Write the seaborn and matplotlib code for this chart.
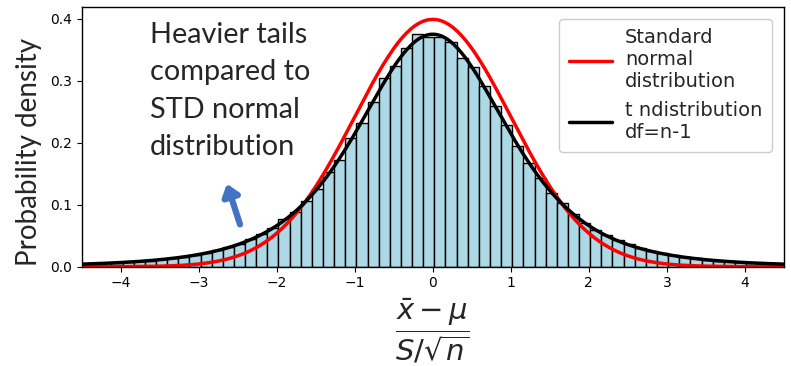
import numpy as np
import pandas as pd
import matplotlib
matplotlib.use("Agg")
import matplotlib.pyplot as plt
import seaborn as sns
from math import gamma, pi, sqrt

# ---- data ----
bin_start = -4.547          # left edge of first bin
bin_width = 0.1427
bar_heights = [
    0.0044, 0.0050, 0.0057, 0.0065, 0.0075, 0.0086, 0.0100, 0.0117,
    0.0136, 0.0160, 0.0188, 0.0222, 0.0262, 0.0310, 0.0368, 0.0440,
    0.0520, 0.0625, 0.0770, 0.0880, 0.1065, 0.1250, 0.1530, 0.1720,
    0.2070, 0.2320, 0.2650, 0.3050, 0.3240, 0.3520, 0.3760, 0.3700,
    0.3700, 0.3630, 0.3360, 0.3220, 0.2910, 0.2600, 0.2290, 0.1940,
    0.1680, 0.1430, 0.1190, 0.1020, 0.0850, 0.0710, 0.0600, 0.0505,
    0.0425, 0.0360, 0.0300, 0.0255, 0.0215, 0.0182, 0.0155, 0.0133,
    0.0114, 0.0098, 0.0085, 0.0073, 0.0064, 0.0056, 0.0049, 0.0043,
]
normal_mu, normal_sigma = 0.0, 1.0
t_df = 4
legend_labels = ["Standard\nnormal\ndistribution", "t ndistribution\ndf=n-1"]
annotation = "Heavier tails\ncompared to\nSTD normal\ndistribution"
x_ticks = [-4, -3, -2, -1, 0, 1, 2, 3, 4]
y_ticks = [0.0, 0.1, 0.2, 0.3, 0.4]

# ---- derived ----
n_bins = len(bar_heights)
edges = [float(bin_start + bin_width * i) for i in range(n_bins + 1)]
centers = [(edges[i] + edges[i + 1]) / 2 for i in range(n_bins)]
hist_df = pd.DataFrame({"x": centers, "h": bar_heights})

xs = np.linspace(-4.5, 4.5, 600)
normal_pdf = np.exp(-0.5 * ((xs - normal_mu) / normal_sigma) ** 2) / (normal_sigma * np.sqrt(2 * np.pi))
t_const = gamma((t_df + 1) / 2) / (sqrt(t_df * pi) * gamma(t_df / 2))
t_pdf = t_const * (1 + xs ** 2 / t_df) ** (-(t_df + 1) / 2)
curve_df = pd.DataFrame({"x": xs, "normal": normal_pdf, "t": t_pdf})

sns.set_style("ticks")
plt.rcParams["font.family"] = ["DejaVu Sans"]

fig = plt.figure(figsize=(7.91, 3.66), dpi=100)
ax = fig.add_axes([0.1033, 0.2713, 0.8877, 0.7097])

sns.histplot(x=hist_df["x"], weights=hist_df["h"], bins=edges, stat="count",
             color="#ADD8E6", edgecolor="black", linewidth=1.0, alpha=1.0, ax=ax)
sns.lineplot(data=curve_df, x="x", y="normal", color="red", linewidth=2.5,
             ax=ax, label=legend_labels[0])
sns.lineplot(data=curve_df, x="x", y="t", color="black", linewidth=2.5,
             ax=ax, label=legend_labels[1])

ax.set_xlim(-4.5, 4.5)
ax.set_ylim(0, 0.419)
ax.set_xticks(x_ticks)
ax.set_yticks(y_ticks)
ax.tick_params(labelsize=10, colors="black")
for s in ax.spines.values():
    s.set_color("black")
    s.set_linewidth(1.0)

ax.set_ylabel("Probability density", fontsize=20, family=["Lato", "DejaVu Sans"])
ax.yaxis.set_label_coords(-0.057, 0.44)
ax.set_xlabel(r"$\dfrac{\bar{x}-\mu}{S/\sqrt{n}}$", fontsize=21, labelpad=4)

ax.legend(loc="upper right", fontsize=14, handlelength=2.2, framealpha=1,
          borderpad=0.5, labelspacing=0.5, handletextpad=0.7,
          borderaxespad=0.6)

ax.text(-3.63, 0.395, annotation, fontsize=20.8, family=["Lato", "DejaVu Sans"],
        va="top", ha="left", linespacing=1.54)
ax.annotate("", xy=(-2.65, 0.138), xytext=(-2.46, 0.064),
            arrowprops=dict(arrowstyle="-|>,head_width=0.5,head_length=0.65",
                            color="#4472C4", lw=4.5))

fig.savefig("out.png", dpi=100)
